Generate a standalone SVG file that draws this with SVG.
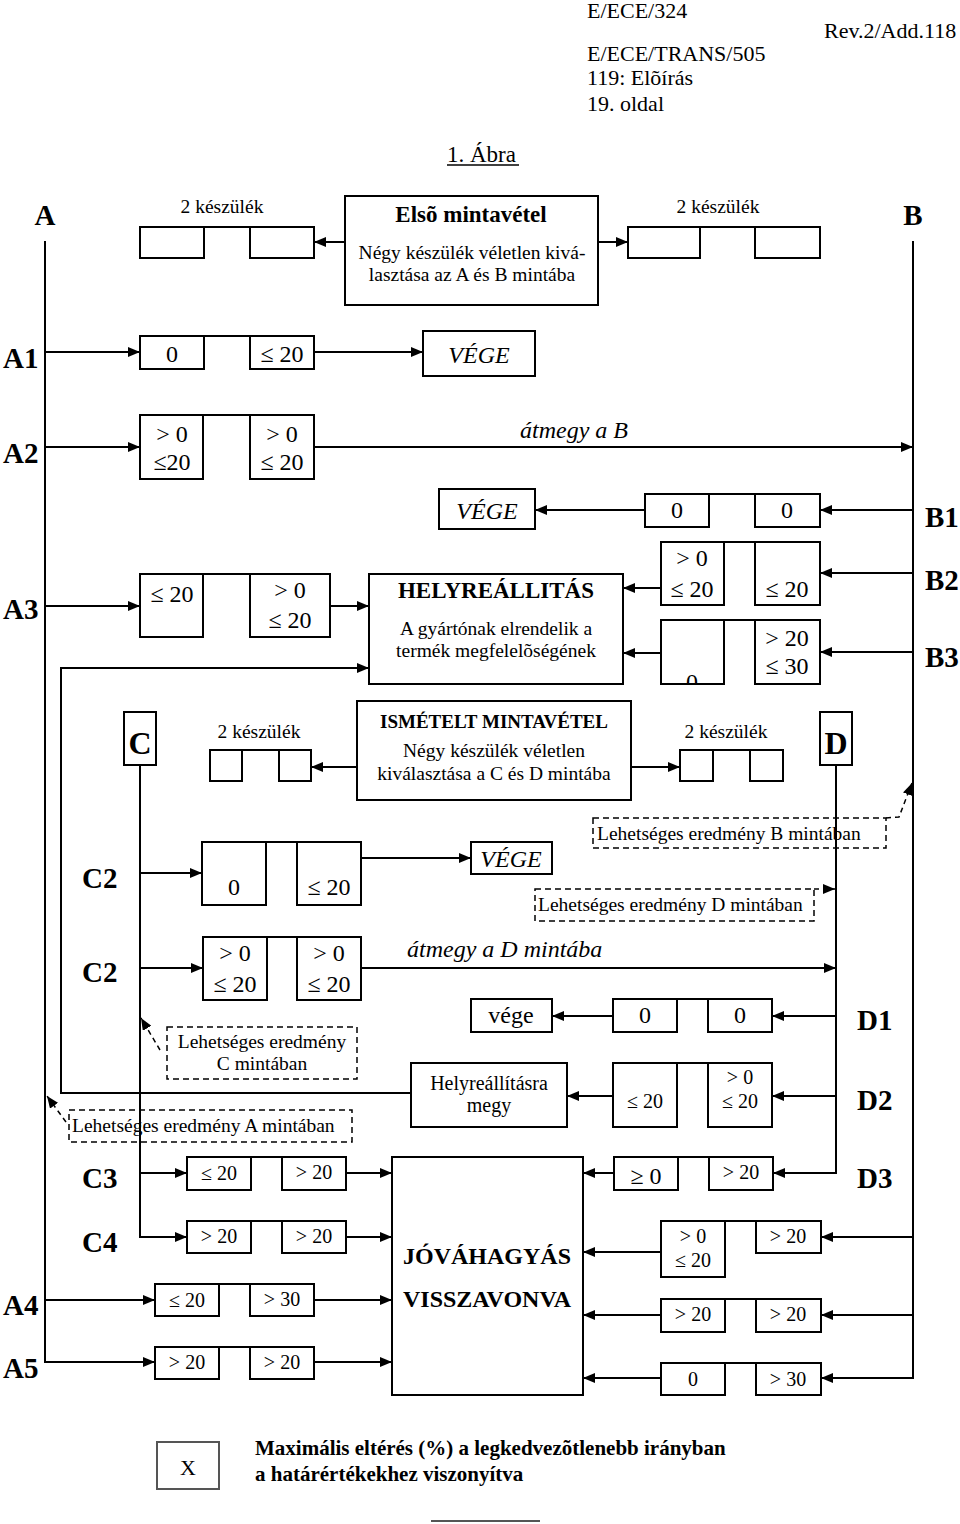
<svg xmlns="http://www.w3.org/2000/svg" width="960" height="1524" viewBox="0 0 960 1524">
<style>
text{font-family:"Liberation Serif","Times New Roman",serif;fill:#000}
.b{fill:#fff;stroke:#000;stroke-width:2}
.d{fill:none;stroke:#000;stroke-width:1.5;stroke-dasharray:6 4}
.c{fill:none;stroke:#000;stroke-width:2}
.ca{fill:none;stroke:#000;stroke-width:2;marker-end:url(#ah)}
.da{fill:none;stroke:#000;stroke-width:1.5;stroke-dasharray:5 4;marker-end:url(#ah)}
.h{font-size:22px}
.lab{font-size:29px;font-weight:bold}
.n24{font-size:24px;text-anchor:middle}
.n20{font-size:20px;text-anchor:middle}
.m{text-anchor:middle}
.t{font-size:19.5px}
.it{font-style:italic}
.bd{font-weight:bold}
</style>
<defs>
<marker id="ah" markerWidth="12" markerHeight="10" refX="12" refY="5" orient="auto" markerUnits="userSpaceOnUse"><path d="M0,0 L12,5 L0,10 z" fill="#000"/></marker>
<clipPath id="clipB3"><rect x="662" y="621" width="61" height="62"/></clipPath>
</defs>

<g id="header">
<text class="h" x="587" y="18">E/ECE/324</text>
<text class="h" x="824" y="38">Rev.2/Add.118</text>
<text class="h" x="587" y="61">E/ECE/TRANS/505</text>
<text class="h" x="587" y="85">119: Elõírás</text>
<text class="h" x="587" y="111">19. oldal</text>
<text x="447" y="162" style="font-size:23px">1. Ábra</text>
<line x1="447" y1="165" x2="519" y2="165" stroke="#000" stroke-width="1.5"/>
</g>

<g id="connectors">
<line class="ca" x1="345" y1="242" x2="314" y2="242"/>
<line class="ca" x1="598" y1="242" x2="628" y2="242"/>
<polyline class="ca" points="45,241 45,1362 155,1362"/>
<line class="ca" x1="45" y1="352" x2="140" y2="352"/>
<line class="ca" x1="45" y1="447" x2="140" y2="447"/>
<line class="ca" x1="45" y1="606" x2="140" y2="606"/>
<line class="ca" x1="45" y1="1300" x2="155" y2="1300"/>
<polyline class="ca" points="913,241 913,1378 821,1378"/>
<line class="ca" x1="913" y1="510" x2="820" y2="510"/>
<line class="ca" x1="913" y1="573" x2="820" y2="573"/>
<line class="ca" x1="913" y1="652" x2="820" y2="652"/>
<line class="ca" x1="913" y1="1237" x2="821" y2="1237"/>
<line class="ca" x1="913" y1="1315" x2="821" y2="1315"/>
<line class="ca" x1="314" y1="352" x2="423" y2="352"/>
<line class="ca" x1="314" y1="447" x2="913" y2="447"/>
<line class="ca" x1="330" y1="606" x2="369" y2="606"/>
<line class="ca" x1="645" y1="510" x2="535" y2="510"/>
<line class="ca" x1="661" y1="588" x2="623" y2="588"/>
<line class="ca" x1="661" y1="653" x2="623" y2="653"/>
<polyline class="ca" points="411,1093 61,1093 61,668 369,668"/>
<line class="ca" x1="357" y1="767" x2="311" y2="767"/>
<line class="ca" x1="631" y1="767" x2="680" y2="767"/>
<polyline class="ca" points="140,765 140,1237 187,1237"/>
<line class="ca" x1="140" y1="873" x2="202" y2="873"/>
<line class="ca" x1="140" y1="968" x2="203" y2="968"/>
<line class="ca" x1="140" y1="1173" x2="187" y2="1173"/>
<line class="ca" x1="361" y1="858" x2="471" y2="858"/>
<line class="ca" x1="361" y1="968" x2="836" y2="968"/>
<polyline class="ca" points="836,765 836,1173 773,1173"/>
<line class="ca" x1="836" y1="1016" x2="772" y2="1016"/>
<line class="ca" x1="836" y1="1096" x2="772" y2="1096"/>
<line class="ca" x1="613" y1="1016" x2="552" y2="1016"/>
<line class="ca" x1="613" y1="1096" x2="567" y2="1096"/>
<line class="ca" x1="346" y1="1173" x2="392" y2="1173"/>
<line class="ca" x1="346" y1="1237" x2="392" y2="1237"/>
<line class="ca" x1="314" y1="1300" x2="392" y2="1300"/>
<line class="ca" x1="314" y1="1362" x2="392" y2="1362"/>
<line class="ca" x1="614" y1="1173" x2="583" y2="1173"/>
<line class="ca" x1="661" y1="1252" x2="583" y2="1252"/>
<line class="ca" x1="661" y1="1315" x2="583" y2="1315"/>
<line class="ca" x1="661" y1="1378" x2="583" y2="1378"/>
<polyline class="da" points="886,818 899,817 912,783"/>
<line class="da" x1="814" y1="889" x2="835" y2="889"/>
<line class="da" x1="160" y1="1050" x2="141" y2="1018"/>
<line class="da" x1="66" y1="1122" x2="47" y2="1096"/>
</g>

<g id="lbl-A"><text class="lab m" x="45" y="225">A</text></g>
<g id="lbl-B"><text class="lab m" x="913" y="225">B</text></g>

<g id="pair-top-left">
<rect class="b" x="140" y="227" width="64" height="31"/>
<rect class="b" x="250" y="227" width="64" height="31"/>
<line class="c" x1="204" y1="227" x2="250" y2="227"/>
<text class="t m" x="222" y="213">2 készülék</text>
</g>
<g id="pair-top-right">
<rect class="b" x="628" y="227" width="72" height="31"/>
<rect class="b" x="755" y="227" width="65" height="31"/>
<line class="c" x1="700" y1="227" x2="755" y2="227"/>
<text class="t m" x="718" y="213">2 készülék</text>
</g>
<g id="first-sampling">
<rect class="b" x="345" y="196" width="253" height="109"/>
<text class="m bd" x="471" y="222" style="font-size:23px">Elsõ mintavétel</text>
<text class="t m" x="472" y="259">Négy készülék véletlen kivá-</text>
<text class="t m" x="472" y="281">lasztása az A és B mintába</text>
</g>

<g id="row-A1">
<text class="lab" x="3" y="368">A1</text>
<rect class="b" x="140" y="336" width="64" height="33"/>
<rect class="b" x="250" y="336" width="64" height="33"/>
<line class="c" x1="204" y1="336" x2="250" y2="336"/>
<text class="n24" x="172" y="362">0</text>
<text class="n24" x="282" y="362">≤ 20</text>
</g>
<g id="vege-1">
<rect class="b" x="423" y="331" width="112" height="45"/>
<text class="n24 it" x="479" y="363">VÉGE</text>
</g>

<g id="row-A2">
<text class="lab" x="3" y="463">A2</text>
<rect class="b" x="140" y="415" width="63" height="64"/>
<rect class="b" x="250" y="415" width="64" height="64"/>
<line class="c" x1="203" y1="415" x2="250" y2="415"/>
<text class="n24" x="172" y="442">&gt; 0</text>
<text class="n24" x="172" y="470">≤20</text>
<text class="n24" x="282" y="442">&gt; 0</text>
<text class="n24" x="282" y="470">≤ 20</text>
<text class="it" x="520" y="438" style="font-size:24px">átmegy a B</text>
</g>

<g id="vege-2">
<rect class="b" x="439" y="489" width="96" height="40"/>
<text class="n24 it" x="487" y="519">VÉGE</text>
</g>
<g id="row-B1">
<text class="lab" x="925" y="527">B1</text>
<rect class="b" x="645" y="494" width="64" height="33"/>
<rect class="b" x="755" y="494" width="65" height="33"/>
<line class="c" x1="709" y1="494" x2="755" y2="494"/>
<text class="n24" x="677" y="518">0</text>
<text class="n24" x="787" y="518">0</text>
</g>

<g id="row-A3">
<text class="lab" x="3" y="619">A3</text>
<rect class="b" x="140" y="574" width="63" height="63"/>
<rect class="b" x="250" y="574" width="80" height="63"/>
<line class="c" x1="203" y1="574" x2="250" y2="574"/>
<text class="n24" x="172" y="602">≤ 20</text>
<text class="n24" x="290" y="598">&gt; 0</text>
<text class="n24" x="290" y="628">≤ 20</text>
</g>
<g id="repair">
<rect class="b" x="369" y="574" width="254" height="110"/>
<text class="m bd" x="496" y="598" style="font-size:23px">HELYREÁLLITÁS</text>
<text class="t m" x="496" y="635">A gyártónak elrendelik a</text>
<text class="t m" x="496" y="657">termék megfelelõségének</text>
</g>
<g id="row-B2">
<text class="lab" x="925" y="590">B2</text>
<rect class="b" x="661" y="542" width="63" height="63"/>
<rect class="b" x="755" y="542" width="65" height="63"/>
<line class="c" x1="724" y1="542" x2="755" y2="542"/>
<text class="n24" x="692" y="566">&gt; 0</text>
<text class="n24" x="692" y="597">≤ 20</text>
<text class="n24" x="787" y="597">≤ 20</text>
</g>
<g id="row-B3">
<text class="lab" x="925" y="667">B3</text>
<rect class="b" x="661" y="620" width="63" height="64"/>
<rect class="b" x="755" y="620" width="65" height="64"/>
<line class="c" x1="724" y1="620" x2="755" y2="620"/>
<text class="n24" x="692" y="690" clip-path="url(#clipB3)">0</text>
<text class="n24" x="787" y="646">&gt; 20</text>
<text class="n24" x="787" y="674">≤ 30</text>
</g>

<g id="C-box">
<rect class="b" x="124" y="712" width="32" height="53"/>
<text class="m bd" x="140" y="754" style="font-size:32px">C</text>
</g>
<g id="D-box">
<rect class="b" x="820" y="712" width="32" height="53"/>
<text class="m bd" x="836" y="754" style="font-size:32px">D</text>
</g>
<g id="pair-C">
<rect class="b" x="210" y="750" width="32" height="31"/>
<rect class="b" x="279" y="750" width="32" height="31"/>
<line class="c" x1="242" y1="750" x2="279" y2="750"/>
<text class="t m" x="259" y="738">2 készülék</text>
</g>
<g id="pair-D">
<rect class="b" x="680" y="750" width="33" height="31"/>
<rect class="b" x="750" y="750" width="33" height="31"/>
<line class="c" x1="713" y1="750" x2="750" y2="750"/>
<text class="t m" x="726" y="738">2 készülék</text>
</g>
<g id="repeat-sampling">
<rect class="b" x="357" y="701" width="274" height="99"/>
<text class="m bd" x="494" y="728" style="font-size:19px">ISMÉTELT MINTAVÉTEL</text>
<text class="t m" x="494" y="757">Négy készülék véletlen</text>
<text class="t m" x="494" y="780">kiválasztása a C és D mintába</text>
</g>

<g id="note-B">
<rect class="d" x="593" y="818" width="293" height="30"/>
<text class="t" x="597" y="840">Lehetséges eredmény B mintában</text>
</g>
<g id="note-D">
<rect class="d" x="535" y="889" width="279" height="32"/>
<text class="t" x="538" y="911">Lehetséges eredmény D mintában</text>
</g>

<g id="row-C2a">
<text class="lab" x="82" y="888">C2</text>
<rect class="b" x="202" y="842" width="64" height="63"/>
<rect class="b" x="297" y="842" width="64" height="63"/>
<line class="c" x1="266" y1="842" x2="297" y2="842"/>
<text class="n24" x="234" y="895">0</text>
<text class="n24" x="329" y="895">≤ 20</text>
</g>
<g id="vege-3">
<rect class="b" x="471" y="842" width="81" height="32"/>
<text class="n24 it" x="511" y="867">VÉGE</text>
</g>
<g id="row-C2b">
<text class="lab" x="82" y="982">C2</text>
<rect class="b" x="203" y="937" width="64" height="63"/>
<rect class="b" x="297" y="937" width="64" height="63"/>
<line class="c" x1="267" y1="937" x2="297" y2="937"/>
<text class="n24" x="235" y="961">&gt; 0</text>
<text class="n24" x="235" y="992">≤ 20</text>
<text class="n24" x="329" y="961">&gt; 0</text>
<text class="n24" x="329" y="992">≤ 20</text>
<text class="it" x="407" y="957" style="font-size:24px">átmegy a D mintába</text>
</g>

<g id="note-C">
<rect class="d" x="167" y="1027" width="190" height="52"/>
<text class="t m" x="262" y="1048">Lehetséges eredmény</text>
<text class="t m" x="262" y="1070">C mintában</text>
</g>
<g id="note-A">
<rect class="d" x="69" y="1110" width="283" height="32"/>
<text class="t" x="72" y="1132">Lehetséges eredmény A mintában</text>
</g>

<g id="row-D1">
<text class="lab" x="857" y="1030">D1</text>
<rect class="b" x="471" y="999" width="81" height="33"/>
<text class="n24" x="511" y="1023">vége</text>
<rect class="b" x="613" y="999" width="64" height="33"/>
<rect class="b" x="708" y="999" width="64" height="33"/>
<line class="c" x1="677" y1="999" x2="708" y2="999"/>
<text class="n24" x="645" y="1023">0</text>
<text class="n24" x="740" y="1023">0</text>
</g>
<g id="row-D2">
<text class="lab" x="857" y="1110">D2</text>
<rect class="b" x="411" y="1063" width="156" height="64"/>
<text class="n20" x="489" y="1090">Helyreállításra</text>
<text class="n20" x="489" y="1112">megy</text>
<rect class="b" x="613" y="1063" width="64" height="64"/>
<rect class="b" x="708" y="1063" width="64" height="64"/>
<line class="c" x1="677" y1="1063" x2="708" y2="1063"/>
<text class="n20" x="645" y="1108">≤ 20</text>
<text class="n20" x="740" y="1084">&gt; 0</text>
<text class="n20" x="740" y="1108">≤ 20</text>
</g>

<g id="row-C3">
<text class="lab" x="82" y="1188">C3</text>
<rect class="b" x="187" y="1157" width="64" height="33"/>
<rect class="b" x="282" y="1157" width="64" height="33"/>
<line class="c" x1="251" y1="1157" x2="282" y2="1157"/>
<text class="n20" x="219" y="1180">≤ 20</text>
<text class="n20" x="314" y="1179">&gt; 20</text>
</g>
<g id="row-C4">
<text class="lab" x="82" y="1252">C4</text>
<rect class="b" x="187" y="1221" width="64" height="32"/>
<rect class="b" x="282" y="1221" width="64" height="32"/>
<line class="c" x1="251" y1="1221" x2="282" y2="1221"/>
<text class="n20" x="219" y="1243">&gt; 20</text>
<text class="n20" x="314" y="1243">&gt; 20</text>
</g>
<g id="row-A4">
<text class="lab" x="3" y="1315">A4</text>
<rect class="b" x="155" y="1284" width="64" height="32"/>
<rect class="b" x="250" y="1284" width="64" height="32"/>
<line class="c" x1="219" y1="1284" x2="250" y2="1284"/>
<text class="n20" x="187" y="1307">≤ 20</text>
<text class="n20" x="282" y="1306">&gt; 30</text>
</g>
<g id="row-A5">
<text class="lab" x="3" y="1378">A5</text>
<rect class="b" x="155" y="1347" width="64" height="32"/>
<rect class="b" x="250" y="1347" width="64" height="32"/>
<line class="c" x1="219" y1="1347" x2="250" y2="1347"/>
<text class="n20" x="187" y="1369">&gt; 20</text>
<text class="n20" x="282" y="1369">&gt; 20</text>
</g>

<g id="withdrawal">
<rect class="b" x="392" y="1157" width="191" height="238"/>
<text class="m bd" x="487" y="1264" style="font-size:24px">JÓVÁHAGYÁS</text>
<text class="m bd" x="487" y="1307" style="font-size:24px">VISSZAVONVA</text>
</g>

<g id="row-D3">
<text class="lab" x="857" y="1188">D3</text>
<rect class="b" x="614" y="1157" width="64" height="33"/>
<rect class="b" x="709" y="1157" width="64" height="33"/>
<line class="c" x1="678" y1="1157" x2="709" y2="1157"/>
<text class="n24" x="646" y="1184">≥ 0</text>
<text class="n20" x="741" y="1179">&gt; 20</text>
</g>
<g id="row-R1">
<rect class="b" x="661" y="1221" width="64" height="56"/>
<rect class="b" x="756" y="1221" width="65" height="32"/>
<line class="c" x1="725" y1="1221" x2="756" y2="1221"/>
<text class="n20" x="693" y="1243">&gt; 0</text>
<text class="n20" x="693" y="1267">≤ 20</text>
<text class="n20" x="788" y="1243">&gt; 20</text>
</g>
<g id="row-R2">
<rect class="b" x="661" y="1299" width="64" height="33"/>
<rect class="b" x="756" y="1299" width="65" height="33"/>
<line class="c" x1="725" y1="1299" x2="756" y2="1299"/>
<text class="n20" x="693" y="1321">&gt; 20</text>
<text class="n20" x="788" y="1321">&gt; 20</text>
</g>
<g id="row-R3">
<rect class="b" x="661" y="1363" width="64" height="32"/>
<rect class="b" x="756" y="1363" width="65" height="32"/>
<line class="c" x1="725" y1="1363" x2="756" y2="1363"/>
<text class="n20" x="693" y="1386">0</text>
<text class="n20" x="788" y="1386">&gt; 30</text>
</g>

<g id="legend">
<rect x="157" y="1442" width="62" height="47" fill="#fff" stroke="#555" stroke-width="2"/>
<text class="m" x="188" y="1475" style="font-size:22px">X</text>
<text class="bd" x="255" y="1455" style="font-size:21px">Maximális eltérés (%) a legkedvezõtlenebb irányban</text>
<text class="bd" x="255" y="1481" style="font-size:21px">a határértékekhez viszonyítva</text>
<line x1="431" y1="1521" x2="540" y2="1521" stroke="#555" stroke-width="2"/>
</g>
</svg>
